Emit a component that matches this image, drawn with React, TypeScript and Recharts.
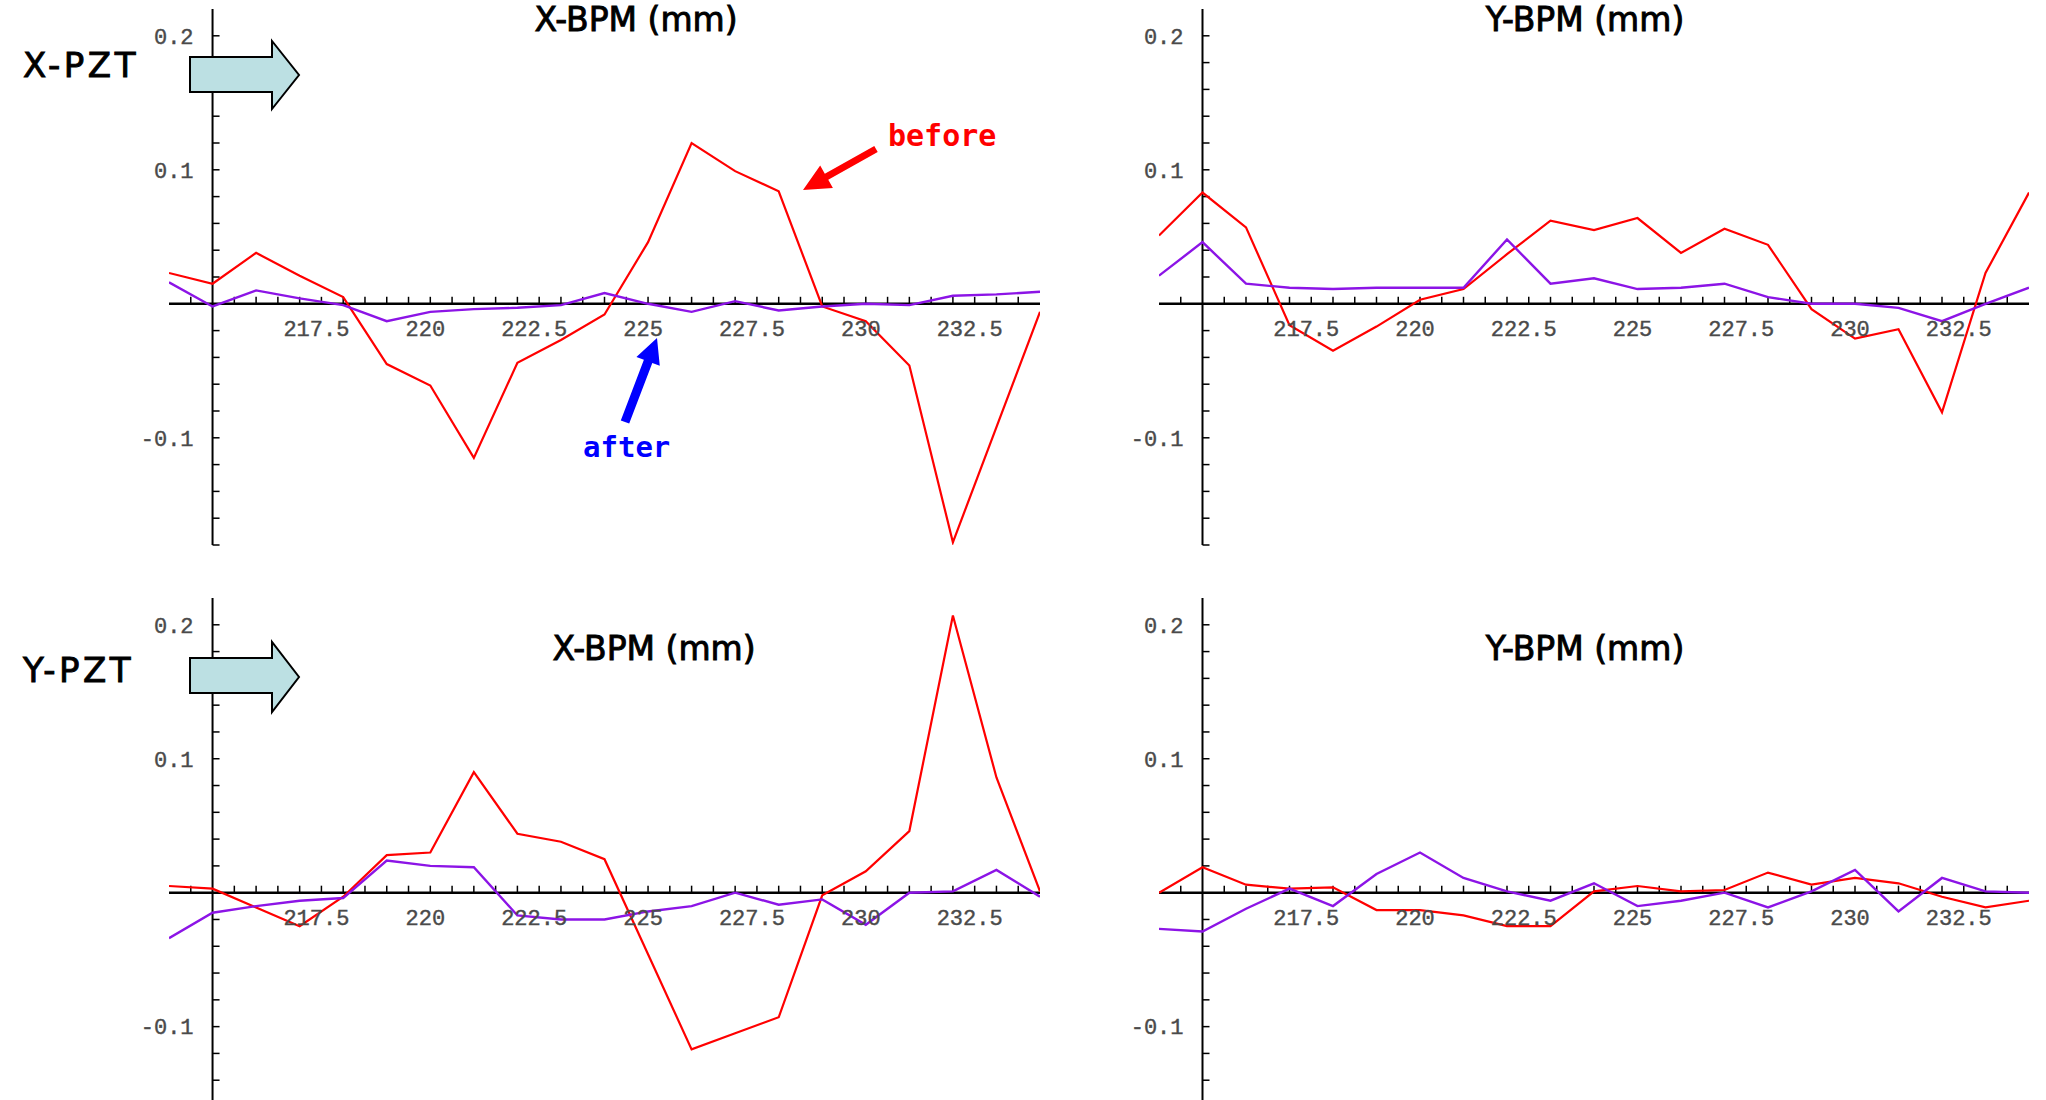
import React from "react";
import { LineChart, Line, XAxis, YAxis, ReferenceLine, ReferenceDot } from "recharts";

// BPM positions along the beamline (21 monitors)
const positions = [214, 215, 216, 217, 218, 219, 220, 221, 222, 223, 224, 225, 226, 227, 228, 229, 230, 231, 232, 233, 234];

// X-PZT kick -> X-BPM response (mm)
const xPztXBefore = [0.023, 0.015, 0.038, 0.021, 0.005, -0.045, -0.061, -0.115, -0.044, -0.027, -0.008, 0.046, 0.12, 0.099, 0.084, -0.002, -0.013, -0.046, -0.178, -0.092, -0.006];
const xPztXAfter = [0.016, -0.002, 0.01, 0.004, -0.001, -0.013, -0.006, -0.004, -0.003, -0.001, 0.008, 0.0, -0.006, 0.002, -0.005, -0.002, 0.0, -0.001, 0.006, 0.007, 0.009];

// X-PZT kick -> Y-BPM response (mm)
const xPztYBefore = [0.051, 0.083, 0.057, -0.016, -0.035, -0.017, 0.003, 0.011, 0.037, 0.062, 0.055, 0.064, 0.038, 0.056, 0.044, -0.004, -0.026, -0.019, -0.081, 0.023, 0.083];
const xPztYAfter = [0.021, 0.046, 0.015, 0.012, 0.011, 0.012, 0.012, 0.012, 0.048, 0.015, 0.019, 0.011, 0.012, 0.015, 0.005, 0.0, 0.0, -0.003, -0.013, 0.0, 0.012];

// Y-PZT kick -> X-BPM response (mm)
const yPztXBefore = [0.005, 0.003, -0.011, -0.025, -0.003, 0.028, 0.03, 0.09, 0.044, 0.038, 0.025, -0.046, -0.117, -0.105, -0.093, -0.002, 0.016, 0.046, 0.207, 0.086, 0.001];
const yPztXAfter = [-0.034, -0.015, -0.01, -0.006, -0.004, 0.024, 0.02, 0.019, -0.017, -0.02, -0.02, -0.014, -0.01, 0.0, -0.009, -0.005, -0.024, 0.0, 0.001, 0.017, -0.003];

// Y-PZT kick -> Y-BPM response (mm)
const yPztYBefore = [0.0, 0.019, 0.006, 0.003, 0.004, -0.013, -0.013, -0.017, -0.025, -0.025, 0.001, 0.005, 0.001, 0.002, 0.015, 0.006, 0.011, 0.007, -0.003, -0.011, -0.006];
const yPztYAfter = [-0.027, -0.029, -0.012, 0.003, -0.01, 0.014, 0.03, 0.011, 0.001, -0.006, 0.007, -0.01, -0.006, 0.0, -0.011, 0.001, 0.017, -0.014, 0.011, 0.001, 0.0];

const xTickLabels = [217.5, 220, 222.5, 225, 227.5, 230, 232.5];
const yTickLabels = [0.2, 0.1, -0.1];

const X_DOMAIN: [number, number] = [214, 234];
const Y_AXIS_AT = 215;

const BEFORE_COLOR = "#ff0000";
const AFTER_COLOR = "#8c14e6";
const TICK_FONT = "'Liberation Mono', monospace";
const LABEL_FONT = "'DejaVu Sans', sans-serif";
const NOTE_FONT = "'DejaVu Sans Mono', monospace";

const M = { top: 20, right: 20, bottom: 20, left: 80 };

interface PanelProps {
  left: number;
  top: number;
  width: number;
  height: number;
  yDomain: [number, number];
  before: number[];
  after: number[];
}

const Panel = ({ left, top, width, height, yDomain, before, after }: PanelProps) => {
  const rows = positions.map((x, i) => ({ x, before: before[i], after: after[i] }));

  // tick lengths in data units (about 7px)
  const yPerPx = (yDomain[1] - yDomain[0]) / height;
  const xPerPx = (X_DOMAIN[1] - X_DOMAIN[0]) / width;
  const xTickLen = 7 * yPerPx;
  const yTickLen = 7 * xPerPx;

  const xMinor: number[] = [];
  for (let t = 214.5; t <= 233.5; t += 0.5) if (t !== Y_AXIS_AT) xMinor.push(t);
  const yMinor: number[] = [];
  for (let k = Math.ceil(yDomain[0] / 0.02); k * 0.02 < yDomain[1]; k++) if (k !== 0) yMinor.push(+(k * 0.02).toFixed(2));

  const tickText = { fill: "#4a4a4a", stroke: "#4a4a4a", strokeWidth: 0.4, fontSize: 22, fontFamily: TICK_FONT };

  return (
    <div style={{ position: "absolute", left: left - M.left, top: top - M.top }}>
      <LineChart width={width + M.left + M.right} height={height + M.top + M.bottom} data={rows} margin={M}>
        <XAxis type="number" dataKey="x" domain={X_DOMAIN} allowDataOverflow hide />
        <YAxis type="number" domain={yDomain} allowDataOverflow hide />
        <ReferenceLine y={0} stroke="#000" strokeWidth={2.5} />
        <ReferenceLine x={Y_AXIS_AT} stroke="#000" strokeWidth={2} />
        {xMinor.map((t) => (
          <ReferenceLine key={`xt${t}`} segment={[{ x: t, y: 0 }, { x: t, y: xTickLen }]} stroke="#000" strokeWidth={1.5} />
        ))}
        {yMinor.map((v) => (
          <ReferenceLine key={`yt${v}`} segment={[{ x: Y_AXIS_AT, y: v }, { x: Y_AXIS_AT + yTickLen, y: v }]} stroke="#000" strokeWidth={1.5} />
        ))}
        {xTickLabels.map((t) => (
          <ReferenceDot
            key={`xl${t}`}
            x={t}
            y={0}
            r={0}
            fill="none"
            stroke="none"
            label={{ value: String(t), position: "bottom", offset: 17, dx: -5, ...tickText }}
          />
        ))}
        {yTickLabels.map((v) => (
          <ReferenceDot
            key={`yl${v}`}
            x={Y_AXIS_AT}
            y={v}
            r={0}
            fill="none"
            stroke="none"
            label={{ value: String(v), position: "left", offset: 19, ...tickText }}
          />
        ))}
        <Line type="linear" dataKey="before" stroke={BEFORE_COLOR} strokeWidth={2.2} dot={false} isAnimationActive={false} />
        <Line type="linear" dataKey="after" stroke={AFTER_COLOR} strokeWidth={2.4} dot={false} isAnimationActive={false} />
      </LineChart>
    </div>
  );
};

// filled arrow polygon from tail to tip
const arrowPoints = (tx: number, ty: number, hx: number, hy: number, shaftW: number, headL: number, headW: number) => {
  const dx = hx - tx;
  const dy = hy - ty;
  const len = Math.hypot(dx, dy);
  const ux = dx / len;
  const uy = dy / len;
  const nx = -uy;
  const ny = ux;
  const bx = hx - ux * headL;
  const by = hy - uy * headL;
  const pts = [
    [tx + nx * shaftW / 2, ty + ny * shaftW / 2],
    [bx + nx * shaftW / 2, by + ny * shaftW / 2],
    [bx + nx * headW / 2, by + ny * headW / 2],
    [hx, hy],
    [bx - nx * headW / 2, by - ny * headW / 2],
    [bx - nx * shaftW / 2, by - ny * shaftW / 2],
    [tx - nx * shaftW / 2, ty - ny * shaftW / 2],
  ];
  return pts.map((p) => p.join(",")).join(" ");
};

const App = () => {
  return (
    <div style={{ position: "absolute", left: 0, top: 0, width: 2046, height: 1100, background: "#fff", overflow: "hidden" }}>
      <Panel left={169} top={9} width={871} height={536} yDomain={[-0.18, 0.22]} before={xPztXBefore} after={xPztXAfter} />
      <Panel left={1159} top={9} width={870} height={536} yDomain={[-0.18, 0.22]} before={xPztYBefore} after={xPztYAfter} />
      <Panel left={169} top={598} width={871} height={509} yDomain={[-0.16, 0.22]} before={yPztXBefore} after={yPztXAfter} />
      <Panel left={1159} top={598} width={870} height={509} yDomain={[-0.16, 0.22]} before={yPztYBefore} after={yPztYAfter} />

      <svg width={2046} height={1100} style={{ position: "absolute", left: 0, top: 0, pointerEvents: "none" }}>
        <g fontFamily={LABEL_FONT} fontSize={33} fill="#000" stroke="#000" strokeWidth={0.9} textAnchor="middle">
          <text x={636} y={31}>X-BPM (mm)</text>
          <text x={1585} y={31}>Y-BPM (mm)</text>
          <text x={654} y={660}>X-BPM (mm)</text>
          <text x={1585} y={660}>Y-BPM (mm)</text>
        </g>
        <g fontFamily={LABEL_FONT} fontSize={34} fill="#000" stroke="#000" strokeWidth={0.9}>
          <text x={23} y={77} letterSpacing={3.5}>X-PZT</text>
          <text x={23} y={682} letterSpacing={3.5}>Y-PZT</text>
        </g>
        <path d="M190,57 L272,57 L272,41 L299,75 L272,109 L272,92 L190,92 Z" fill="#bce0e3" stroke="#000" strokeWidth={2} />
        <path d="M190,658 L272,658 L272,642 L299,677 L272,712 L272,693 L190,693 Z" fill="#bce0e3" stroke="#000" strokeWidth={2} />

        <text x={888} y={146} fontFamily={NOTE_FONT} fontWeight="bold" fontSize={30} fill="#ff0000">before</text>
        <polygon points={arrowPoints(876, 149, 803, 190, 7, 27, 26)} fill="#ff0000" />
        <text x={583} y={457} fontFamily={NOTE_FONT} fontWeight="bold" fontSize={29} fill="#0000ff">after</text>
        <polygon points={arrowPoints(625, 422, 657, 338, 9, 25, 25)} fill="#0000ff" />
      </svg>
    </div>
  );
};

export default App;
